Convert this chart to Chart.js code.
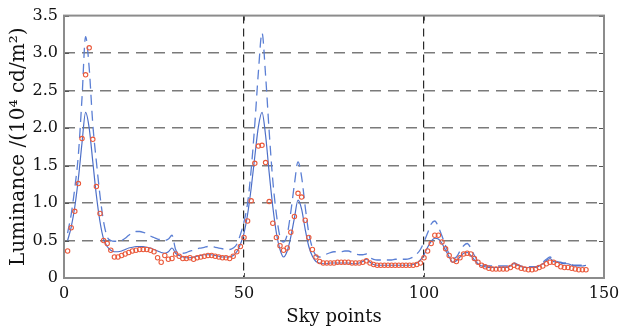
<!DOCTYPE html>
<html>
<head>
<meta charset="utf-8">
<script src="https://cdn.jsdelivr.net/npm/chart.js@4.4.0/dist/chart.umd.min.js"></script>
<style>
  html, body { margin: 0; padding: 0; background: #fff; }
  #wrap { width: 628px; height: 327px; }
</style>
</head>
<body>
<div id="wrap"><canvas id="chart" width="628" height="327"></canvas></div>
<script>
// sky point luminance, 10^4 cd/m2, points 1..145
const measured = [
  0.36, 0.67, 0.89, 1.26, 1.86, 2.71, 3.07, 1.85, 1.22, 0.86,
  0.50, 0.46, 0.37, 0.28, 0.28, 0.30, 0.32, 0.34, 0.36, 0.37,
  0.38, 0.38, 0.38, 0.37, 0.35, 0.27, 0.21, 0.30, 0.25, 0.26,
  0.32, 0.29, 0.26, 0.26, 0.27, 0.25, 0.27, 0.28, 0.29, 0.30,
  0.30, 0.29, 0.28, 0.27, 0.27, 0.26, 0.29, 0.35, 0.42, 0.54,
  0.76, 1.03, 1.53, 1.76, 1.77, 1.54, 1.02, 0.73, 0.54, 0.43,
  0.37, 0.40, 0.61, 0.82, 1.13, 1.08, 0.77, 0.54, 0.38, 0.28,
  0.22, 0.20, 0.20, 0.20, 0.20, 0.21, 0.21, 0.21, 0.21, 0.20,
  0.20, 0.20, 0.21, 0.23, 0.20, 0.18, 0.17, 0.17, 0.17, 0.17,
  0.17, 0.17, 0.17, 0.17, 0.17, 0.17, 0.17, 0.18, 0.20, 0.27,
  0.36, 0.46, 0.57, 0.57, 0.48, 0.39, 0.30, 0.24, 0.22, 0.27,
  0.32, 0.33, 0.32, 0.26, 0.21, 0.17, 0.15, 0.13, 0.12, 0.12,
  0.12, 0.12, 0.12, 0.14, 0.17, 0.15, 0.13, 0.12, 0.11, 0.11,
  0.12, 0.14, 0.16, 0.19, 0.21, 0.21, 0.18, 0.15, 0.14, 0.14,
  0.13, 0.12, 0.11, 0.11, 0.11
];

const modelSolid = [
  0.50, 0.68, 0.95, 1.33, 1.80, 2.21, 2.00, 1.55, 1.10, 0.75,
  0.52, 0.42, 0.37, 0.35, 0.35, 0.36, 0.38, 0.40, 0.41, 0.42,
  0.42, 0.42, 0.41, 0.40, 0.38, 0.36, 0.34, 0.33, 0.35, 0.40,
  0.33, 0.30, 0.28, 0.27, 0.27, 0.28, 0.29, 0.30, 0.31, 0.31,
  0.31, 0.30, 0.29, 0.28, 0.28, 0.28, 0.30, 0.35, 0.45, 0.60,
  0.85, 1.20, 1.62, 2.02, 2.21, 1.90, 1.40, 0.95, 0.60, 0.38,
  0.28, 0.36, 0.55, 0.80, 1.04, 0.92, 0.65, 0.42, 0.29, 0.22,
  0.20, 0.19, 0.19, 0.20, 0.20, 0.20, 0.20, 0.20, 0.20, 0.19,
  0.19, 0.20, 0.22, 0.25, 0.21, 0.18, 0.17, 0.17, 0.17, 0.17,
  0.17, 0.17, 0.17, 0.17, 0.17, 0.17, 0.18, 0.20, 0.24, 0.31,
  0.41, 0.49, 0.53, 0.52, 0.46, 0.37, 0.28, 0.21, 0.23, 0.28,
  0.33, 0.34, 0.30, 0.24, 0.19, 0.16, 0.15, 0.14, 0.14, 0.14,
  0.14, 0.14, 0.14, 0.16, 0.19, 0.17, 0.15, 0.14, 0.14, 0.14,
  0.14, 0.16, 0.19, 0.23, 0.26, 0.22, 0.21, 0.20, 0.19, 0.19,
  0.17, 0.16, 0.16, 0.16, 0.17
];

const modelDashed = [
  0.60, 0.85, 1.20, 1.65, 2.40, 3.22, 2.80, 2.05, 1.55, 1.10,
  0.75, 0.55, 0.50, 0.49, 0.49, 0.50, 0.53, 0.57, 0.60, 0.62,
  0.62, 0.61, 0.59, 0.56, 0.54, 0.52, 0.51, 0.50, 0.52, 0.57,
  0.38, 0.33, 0.33, 0.34, 0.36, 0.37, 0.39, 0.40, 0.41, 0.42,
  0.42, 0.41, 0.40, 0.39, 0.38, 0.38, 0.40, 0.45, 0.58, 0.75,
  1.00, 1.45, 2.05, 2.75, 3.27, 2.70, 1.95, 1.30, 0.85, 0.55,
  0.48, 0.58, 0.88, 1.25, 1.55, 1.35, 0.95, 0.60, 0.40, 0.30,
  0.28, 0.30, 0.32, 0.34, 0.35, 0.35, 0.35, 0.36, 0.36, 0.34,
  0.32, 0.31, 0.31, 0.32, 0.27, 0.25, 0.24, 0.24, 0.24, 0.24,
  0.24, 0.25, 0.25, 0.25, 0.25, 0.26, 0.28, 0.32, 0.38, 0.48,
  0.60, 0.72, 0.76, 0.68, 0.56, 0.43, 0.32, 0.26, 0.28, 0.36,
  0.43, 0.46, 0.40, 0.30, 0.22, 0.18, 0.17, 0.16, 0.16, 0.16,
  0.16, 0.16, 0.16, 0.18, 0.20, 0.18, 0.16, 0.15, 0.15, 0.15,
  0.15, 0.17, 0.21, 0.25, 0.28, 0.24, 0.22, 0.21, 0.20, 0.20,
  0.18, 0.17, 0.17, 0.17, 0.18
];

const xTicks = [0, 50, 100, 150];
const yTicks = [0, 0.5, 1.0, 1.5, 2.0, 2.5, 3.0, 3.5];

const SERIF = '"DejaVu Serif", "Liberation Serif", serif';

// sky point number = position in the list, starting at 1
const toPoints = arr => arr.map((v, i) => ({ x: i + 1, y: v }));

// box round the plot + short inward ticks
const framePlugin = {
  id: 'frame',
  afterDatasetsDraw(chart) {
    const { ctx, chartArea: a, scales: { x, y } } = chart;
    ctx.save();
    ctx.strokeStyle = '#555';
    ctx.lineWidth = 1;
    yTicks.forEach(v => {
      const py = Math.round(y.getPixelForValue(v)) + 0.5;
      ctx.beginPath();
      ctx.moveTo(a.left, py); ctx.lineTo(a.left + 5, py);
      ctx.moveTo(a.right, py); ctx.lineTo(a.right - 5, py);
      ctx.stroke();
    });
    xTicks.forEach(v => {
      const px = Math.round(x.getPixelForValue(v)) + 0.5;
      ctx.beginPath();
      ctx.moveTo(px, a.bottom); ctx.lineTo(px, a.bottom - 5);
      ctx.moveTo(px, a.top); ctx.lineTo(px, a.top + 5);
      ctx.stroke();
    });
    ctx.strokeStyle = '#8c8c8c';
    ctx.lineWidth = 2;
    ctx.strokeRect(a.left, a.top, a.right - a.left, a.bottom - a.top);
    ctx.restore();
  }
};

new Chart(document.getElementById('chart'), {
  type: 'line',
  data: {
    datasets: [
      {
        data: toPoints(measured),
        showLine: false,
        pointStyle: 'circle',
        pointRadius: 2.2,
        pointBorderWidth: 1.1,
        pointBorderColor: '#ea5a3c',
        pointBackgroundColor: 'rgba(255,255,255,0)'
      },
      {
        data: toPoints(modelSolid),
        borderColor: '#4d6fc8',
        borderWidth: 1.2,
        pointRadius: 0,
        cubicInterpolationMode: 'monotone'
      },
      {
        data: toPoints(modelDashed),
        borderColor: '#5b7fd4',
        borderWidth: 1.3,
        borderDash: [10, 6],
        pointRadius: 0,
        cubicInterpolationMode: 'monotone'
      }
    ]
  },
  options: {
    responsive: false,
    animation: false,
    layout: { padding: { left: 0, top: 12, right: 24, bottom: 0 } },
    plugins: { legend: { display: false }, tooltip: { enabled: false } },
    scales: {
      x: {
        type: 'linear',
        min: 0,
        max: 150,
        afterBuildTicks: s => { s.ticks = xTicks.map(v => ({ value: v })); },
        afterFit: s => { s.height = 49; },
        grid: {
          drawTicks: false,
          lineWidth: 1.2,
          color: c => (c.tick && (c.tick.value === 50 || c.tick.value === 100)) ? '#2a2a2a' : 'rgba(0,0,0,0)'
        },
        border: { display: false, dash: [8, 5] },
        ticks: {
          padding: 6,
          color: '#111',
          maxRotation: 0,
          font: { family: SERIF, size: 16 }
        },
        title: {
          display: true,
          text: 'Sky points',
          color: '#111',
          padding: { top: 0, bottom: 1 },
          font: { family: SERIF, size: 18, lineHeight: 1 }
        }
      },
      y: {
        min: 0,
        max: 3.5,
        afterBuildTicks: s => { s.ticks = yTicks.map(v => ({ value: v })); },
        afterFit: s => { s.width = 64; },
        grid: {
          drawTicks: false,
          lineWidth: 1.5,
          color: c => (c.tick && c.tick.value > 0 && c.tick.value < 3.5) ? '#7a7a7a' : 'rgba(0,0,0,0)'
        },
        border: { display: false, dash: [11, 7] },
        ticks: {
          padding: 6,
          color: '#111',
          font: { family: SERIF, size: 16 },
          callback: v => v === 0 ? '0' : v.toFixed(1)
        },
        title: {
          display: true,
          text: 'Luminance /(10⁴ cd/m²)',
          color: '#111',
          padding: { top: 9, bottom: 0 },
          font: { family: SERIF, size: 20, lineHeight: 1 }
        }
      }
    }
  },
  plugins: [framePlugin]
});
</script>
</body>
</html>
